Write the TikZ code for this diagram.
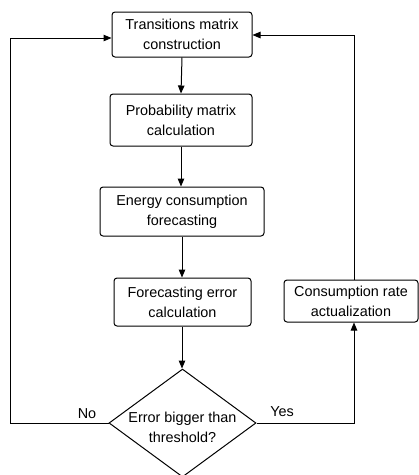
\documentclass[tikz,border=0pt]{standalone}
\usepackage{fontspec}
\setmainfont{Liberation Sans}
\usetikzlibrary{shapes.geometric,arrows.meta,calc}
\begin{document}
\begin{tikzpicture}[x=1pt,y=-1pt,
  every node/.style={font=\fontsize{14.4pt}{20pt}\selectfont, align=center, inner sep=0pt},
  procbox/.style={draw, rounded corners=3pt, line width=1pt},
  decision/.style={draw, diamond, line width=1pt, minimum width=147pt, minimum height=108pt},
  conn/.style={line width=1pt, -{Triangle[length=8pt,width=6.5pt]}},
  plain/.style={line width=1pt}]
\useasboundingbox (0,0) rectangle (419,475);
\fill[white] (0,0) rectangle (419,475);
\node[procbox, minimum width=140pt, minimum height=45pt] (b1) at (182,34.5) {Transitions matrix\\construction};
\node[procbox, minimum width=142pt, minimum height=52pt] (b2) at (181,120) {Probability matrix\\calculation};
\node[procbox, minimum width=164pt, minimum height=49pt] (b3) at (182,211.5) {Energy consumption\\forecasting};
\node[procbox, minimum width=137pt, minimum height=48pt] (b4) at (182.5,302) {Forecasting error\\calculation};
\node[procbox, minimum width=134pt, minimum height=42pt] (b5) at (351,301) {Consumption rate\\actualization};
\node[decision] (d) at (182.5,423) {};
\node (dt) at (182.5,427) {Error bigger than\\threshold?};
\node (no) at (87,414) {No};
\node (yes) at (282,412) {Yes};
\coordinate (lc) at (10,38);
\coordinate (rc) at (354,35);
\draw[conn] (b1.south) -- (b2.north);
\draw[conn] (b2.south -| b2.center) -- (b3.north -| b2.center);
\draw[conn] (b3.south -| b1.south) -- (b4.north -| b1.south);
\draw[conn] (b4.south -| b1.south) -- (d.north -| b1.south);
\draw[conn] (d.west) -| (lc) -- (b1.west |- lc);
\draw[conn] (d.east) -| (rc |- b5.south);
\draw[conn] (rc |- b5.north) -- (rc) -- (b1.east |- rc);
\end{tikzpicture}
\end{document}
